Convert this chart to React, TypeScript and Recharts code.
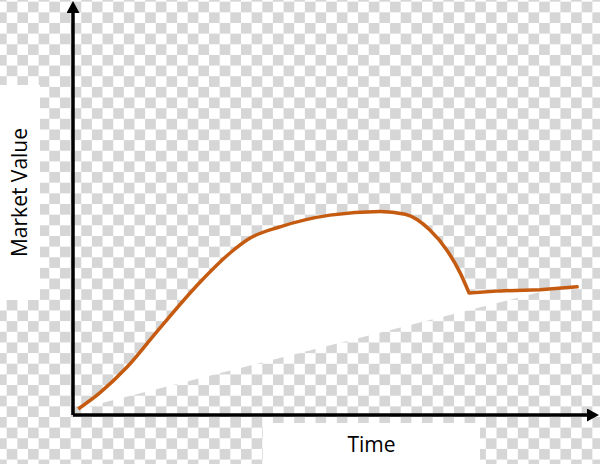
import { ComposedChart, Area, Line, XAxis, YAxis } from "recharts";

// time axis runs 0..100, market value 0..100 (no units shown on the picture)
const time = [1, 5.2, 10.5, 16.3, 24.7, 30.5, 34.4, 40.2, 49.9, 59.6, 64.5, 69.3, 72.6, 75.2, 76.9, 82.9, 90.7, 97.9];
const risingValue = [1.5, 5.5, 11.9, 20.7, 33.0, 40.2, 43.9, 46.7, 49.6, 50.5, 49.8, 45.9, 40.9, 35.2, 30.3, null, null, null];
const settledValue = [null, null, null, null, null, null, null, null, null, null, null, null, null, null, 30.3, 30.8, 31.1, 31.8];
// straight lower edge of the white region (what shows through below it is background)
const lowerEdge = [1.5, null, null, null, null, null, null, null, null, null, null, null, null, null, null, null, 30.5, 31.8];

const xLabel = "Time";
const yLabel = "Market Value";

const rows = time.map((t, i) => ({
  t,
  rise: risingValue[i],
  settled: settledValue[i],
  edge: lowerEdge[i],
}));

const ORANGE = "#c55a11";
const CHECK = "#d6d6d6";
const SQ = 10.65;

export default function App() {
  return (
    <div
      style={{
        position: "absolute",
        left: 0,
        top: 0,
        width: 600,
        height: 464,
        overflow: "hidden",
        fontFamily: "'Open Sans', sans-serif",
        background: `repeating-conic-gradient(${CHECK} 0% 25%, #ffffff 0% 50%)`,
        backgroundSize: `${SQ * 2}px ${SQ * 2}px`,
        backgroundPosition: `${6.7 - SQ}px 1.7px`,
      }}
    >
      <svg width={0} height={0} style={{ position: "absolute" }}>
        <defs>
          <marker
            id="arrowHead"
            markerUnits="userSpaceOnUse"
            markerWidth={12}
            markerHeight={13}
            viewBox="0 0 12 13"
            refX={1}
            refY={6.5}
            orient="auto-start-reverse"
          >
            <path d="M0,0 L12,6.5 L0,13 z" fill="#000" />
          </marker>
          <pattern
            id="checker"
            patternUnits="userSpaceOnUse"
            x={6.7 - SQ}
            y={1.7}
            width={SQ * 2}
            height={SQ * 2}
          >
            <rect width={SQ * 2} height={SQ * 2} fill="#ffffff" />
            <rect x={SQ} y={0} width={SQ} height={SQ} fill={CHECK} />
            <rect x={0} y={SQ} width={SQ} height={SQ} fill={CHECK} />
          </pattern>
        </defs>
      </svg>

      <ComposedChart
        width={600}
        height={464}
        data={rows}
        margin={{ top: 12, right: 12, left: 72, bottom: 48 }}
        style={{ position: "absolute", left: 0, top: 0 }}
      >
        <Area
          dataKey="rise"
          type="monotone"
          fill="#ffffff"
          fillOpacity={1}
          stroke="none"
          isAnimationActive={false}
        />
        <Area
          dataKey="settled"
          type="linear"
          fill="#ffffff"
          fillOpacity={1}
          stroke="none"
          isAnimationActive={false}
        />
        <Area
          dataKey="edge"
          type="linear"
          connectNulls
          fill="url(#checker)"
          fillOpacity={1}
          stroke="none"
          isAnimationActive={false}
        />
        <Line
          dataKey="rise"
          type="monotone"
          stroke={ORANGE}
          strokeWidth={3.5}
          dot={false}
          activeDot={false}
          isAnimationActive={false}
        />
        <Line
          dataKey="settled"
          type="linear"
          stroke={ORANGE}
          strokeWidth={3.5}
          strokeLinecap="round"
          dot={false}
          activeDot={false}
          isAnimationActive={false}
        />
        <XAxis
          dataKey="t"
          type="number"
          domain={[0, 100]}
          height={1}
          tick={false}
          tickLine={false}
          axisLine={{ stroke: "#000", strokeWidth: 3.5, markerEnd: "url(#arrowHead)" }}
        />
        <YAxis
          type="number"
          domain={[0, 100]}
          width={1}
          tick={false}
          tickLine={false}
          axisLine={{ stroke: "#000", strokeWidth: 3.5, markerStart: "url(#arrowHead)" }}
        />
      </ComposedChart>

      <div
        style={{
          position: "absolute",
          left: 0,
          top: 85,
          width: 40,
          height: 215,
          background: "#fff",
          display: "flex",
          alignItems: "center",
          justifyContent: "center",
        }}
      >
        <span
          style={{
            transform: "rotate(-90deg)",
            whiteSpace: "nowrap",
            fontSize: 21,
            lineHeight: "21px",
            color: "#000",
          }}
        >
          {yLabel}
        </span>
      </div>

      <div
        style={{
          position: "absolute",
          left: 263,
          top: 423,
          width: 217,
          height: 41,
          background: "#fff",
        }}
      >
        <div
          style={{
            position: "absolute",
            left: 0,
            right: 0,
            top: 11,
            textAlign: "center",
            fontSize: 21,
            lineHeight: "21px",
            color: "#000",
          }}
        >
          {xLabel}
        </div>
      </div>
    </div>
  );
}
